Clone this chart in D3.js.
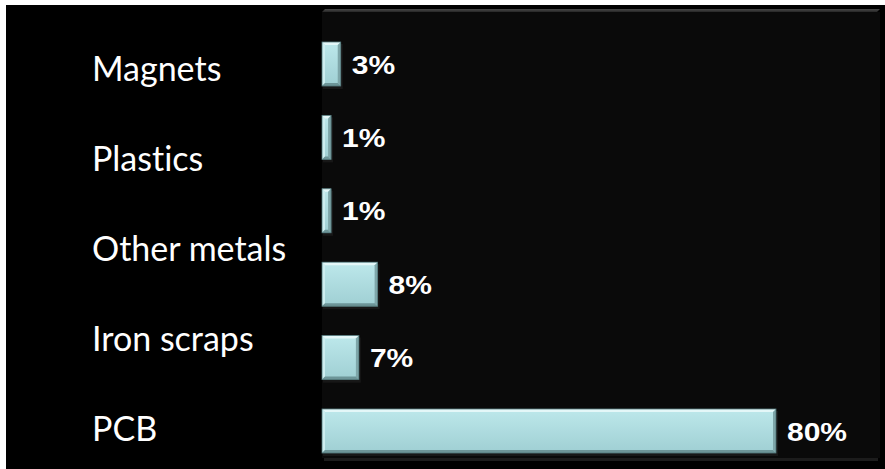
<!DOCTYPE html>
<html>
<head>
<meta charset="utf-8">
<script src="https://cdn.jsdelivr.net/npm/d3@7"></script>
<style>
  html, body { margin: 0; padding: 0; background: #fff; }
  svg { display: block; }
</style>
</head>
<body>
<script>
var bars = ['b1', 'b2', 'b3', 'b4', 'b5', 'b6']
var values = [3.3, 1.6, 1.6, 9.8, 6.5, 80]
var valueLabels = ['3%', '1%', '1%', '8%', '7%', '80%']
var categories = ['Magnets', 'Plastics', 'Other metals', 'Iron scraps', 'PCB']

var width = 885, height = 469
var plot = { left: 322, right: 880, top: 9, bottom: 460 }

var svg = d3.select('body').append('svg')
	.attr('width', width)
	.attr('height', height)

var defs = svg.append('defs')
var grad = defs.append('linearGradient')
	.attr('id', 'barFill')
	.attr('x1', 0).attr('y1', 0).attr('x2', 0).attr('y2', 1)
grad.append('stop').attr('offset', '0%').attr('stop-color', '#bde8eb')
grad.append('stop').attr('offset', '100%').attr('stop-color', '#9fcfd3')

var topGrad = defs.append('linearGradient')
	.attr('id', 'topEdge')
	.attr('x1', 0).attr('y1', 0).attr('x2', 0).attr('y2', 1)
topGrad.append('stop').attr('offset', '0%').attr('stop-color', '#4a4a4a')
topGrad.append('stop').attr('offset', '100%').attr('stop-color', '#262626')

// black panel with a thin white margin on the top and left
svg.append('rect')
	.attr('x', 6).attr('y', 5)
	.attr('width', width - 6).attr('height', height - 5)
	.attr('fill', '#000')

// plot wall
svg.append('rect')
	.attr('x', plot.left).attr('y', plot.top + 3)
	.attr('width', plot.right - plot.left).attr('height', plot.bottom - plot.top - 5)
	.attr('fill', '#0a0a0a')
svg.append('polygon')
	.attr('points', [[plot.left, plot.top + 3], [plot.left + 3, plot.top], [plot.right, plot.top], [plot.right - 3, plot.top + 3]].join(' '))
	.attr('fill', 'url(#topEdge)')
svg.append('rect')
	.attr('x', plot.left + 2).attr('y', plot.bottom - 2)
	.attr('width', plot.right - plot.left - 4).attr('height', 3)
	.attr('fill', '#1c1c1c')

var x = d3.scaleLinear().domain([0, 80]).range([plot.left, 776])
var y = d3.scaleBand().domain(bars).range([27.3, 467.7]).paddingInner(0.4).paddingOuter(0.2)
var yLab = d3.scalePoint().domain(categories).range([27.3, 467.7]).padding(0.44)

var rows = bars.map(function(b, i){ return { key: b, value: values[i], label: valueLabels[i] } })

var g = svg.selectAll('.bar').data(rows).enter().append('g')
	.attr('class', 'bar')

function bevel(d){
	var x0 = x(0), y0 = y(d.key), w = x(d.value) - x(0), h = y.bandwidth()
	var b = Math.min(3, w / 2)
	return {
		top: [[x0, y0], [x0 + w, y0], [x0 + w - b, y0 + b], [x0 + b, y0 + b]],
		left: [[x0, y0], [x0 + b, y0 + b], [x0 + b, y0 + h - b], [x0, y0 + h]],
		right: [[x0 + w, y0], [x0 + w, y0 + h], [x0 + w - b, y0 + h - b], [x0 + w - b, y0 + b]],
		bottom: [[x0, y0 + h], [x0 + w, y0 + h], [x0 + w - b, y0 + h - b], [x0 + b, y0 + h - b]]
	}
}

// soft shadow under each bar
g.append('rect')
	.attr('x', function(d){ return x(0) + 1 })
	.attr('y', function(d){ return y(d.key) + 2 })
	.attr('width', function(d){ return x(d.value) - x(0) + 1 })
	.attr('height', y.bandwidth() + 1)
	.attr('fill', '#1a1a1a')
	.attr('opacity', 0.8)

g.append('rect')
	.attr('x', x(0))
	.attr('y', function(d){ return y(d.key) })
	.attr('width', function(d){ return x(d.value) - x(0) })
	.attr('height', y.bandwidth())
	.attr('fill', 'url(#barFill)')

var edges = [['top', '#e4f7f8'], ['left', '#cdeef0'], ['right', '#7ea6a9'], ['bottom', '#6d9598']]
edges.forEach(function(e){
	g.append('polygon')
		.attr('points', function(d){ return bevel(d)[e[0]].join(' ') })
		.attr('fill', e[1])
})

g.append('rect')
	.attr('x', x(0))
	.attr('y', function(d){ return y(d.key) })
	.attr('width', function(d){ return x(d.value) - x(0) })
	.attr('height', y.bandwidth())
	.attr('fill', 'none')
	.attr('stroke', '#4f7477')
	.attr('stroke-width', 0.8)

g.append('text')
	.attr('transform', function(d){
		return 'translate(' + (x(d.value) + 11) + ',' + (y(d.key) + y.bandwidth() / 2 + 3) + ') scale(1.2,1)'
	})
	.attr('dominant-baseline', 'middle')
	.attr('fill', '#fff')
	.attr('font-family', '"Liberation Sans", Arial, sans-serif')
	.attr('font-weight', 'bold')
	.attr('font-size', 25)
	.text(function(d){ return d.label })

svg.selectAll('.cat').data(categories).enter().append('text')
	.attr('class', 'cat')
	.attr('x', 92)
	.attr('y', function(d){ return yLab(d) })
	.attr('dominant-baseline', 'central')
	.attr('fill', '#fff')
	.attr('font-family', 'Lato, "Open Sans", sans-serif')
	.attr('font-size', 34)
	.style('font-variant-ligatures', 'none')
	.text(function(d){ return d })
</script>
</body>
</html>
